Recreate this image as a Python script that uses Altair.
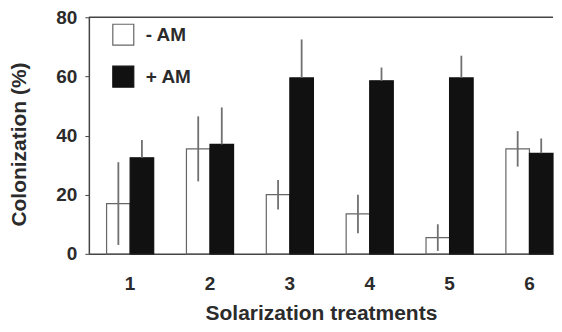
import altair as alt
import pandas as pd

treatments = ["1", "2", "3", "4", "5", "6"]
series = ["- AM", "+ AM"]
minus_mean = [17, 35.5, 20, 13.5, 5.5, 35.5]
minus_err = [14, 11, 5, 6.5, 4.5, 6]
plus_mean = [32.5, 37, 59.5, 58.5, 59.5, 34]
plus_err = [6, 12.5, 13, 4.5, 7.5, 5]

rows = []
for i, t in enumerate(treatments):
    rows.append({"treatment": t, "series": "- AM", "mean": minus_mean[i],
                 "lo": minus_mean[i] - minus_err[i], "hi": minus_mean[i] + minus_err[i]})
    rows.append({"treatment": t, "series": "+ AM", "mean": plus_mean[i],
                 "lo": plus_mean[i], "hi": plus_mean[i] + plus_err[i]})
df = pd.DataFrame(rows)

FONT = "Liberation Sans"
TXT = "#2b2b2b"

x_enc = alt.X("treatment:N", sort=treatments, title="Solarization treatments",
              scale=alt.Scale(paddingInner=0.41, paddingOuter=0.111, align=1),
              axis=alt.Axis(labelAngle=0, ticks=False, labelPadding=21, titlePadding=9,
                            domainColor="#444", domainWidth=1.5))
xoff = alt.XOffset("series:N", sort=series, scale=alt.Scale(paddingInner=0, paddingOuter=0))
y_scale = alt.Scale(domain=[0, 80], nice=False)

bars = alt.Chart(df).mark_bar(strokeWidth=1.2).encode(
    x=x_enc,
    xOffset=xoff,
    y=alt.Y("mean:Q", scale=y_scale, title="Colonization (%)",
            axis=alt.Axis(values=[0, 20, 40, 60, 80], grid=False, tickSize=4,
                          labelPadding=8, titlePadding=26, titleY=127, domainColor="#444",
                          tickColor="#444", domainWidth=1.5)),
    fill=alt.Fill("series:N", sort=series,
                  scale=alt.Scale(domain=series, range=["white", "#111111"]),
                  legend=alt.Legend(title=None, orient="none", legendX=23, legendY=6)),
    stroke=alt.Stroke("series:N", sort=series,
                      scale=alt.Scale(domain=series, range=["#666666", "#111111"]),
                      legend=alt.Legend(title=None, orient="none", legendX=23, legendY=6)),
)

errs = alt.Chart(df).mark_rule(color="#707070", strokeWidth=1.8).encode(
    x=alt.X("treatment:N", sort=treatments),
    xOffset=xoff,
    y=alt.Y("lo:Q", scale=y_scale),
    y2="hi:Q",
)

top_df = pd.DataFrame({"v": [80]})
top = alt.Chart(top_df).mark_rule(color="#444", strokeWidth=1.5).encode(
    y=alt.Y("v:Q", scale=y_scale)
)

chart = alt.layer(bars, errs, top).properties(
    width=465, height=237,
    padding={"left": 0, "top": 0, "right": 0, "bottom": 0},
).configure_view(stroke=None).configure_axis(
    labelFont=FONT, titleFont=FONT, labelFontSize=19, titleFontSize=21,
    labelFontWeight="bold", titleFontWeight="bold", labelColor=TXT, titleColor=TXT,
).configure_legend(
    labelFont=FONT, labelFontSize=19, labelFontWeight="bold", labelColor=TXT,
    symbolType="square", symbolSize=441, symbolStrokeWidth=1.2, rowPadding=15,
    labelOffset=11, padding=0, symbolOpacity=1,
)

chart.save("out.html", embed_options={"renderer": "svg", "actions": False})
